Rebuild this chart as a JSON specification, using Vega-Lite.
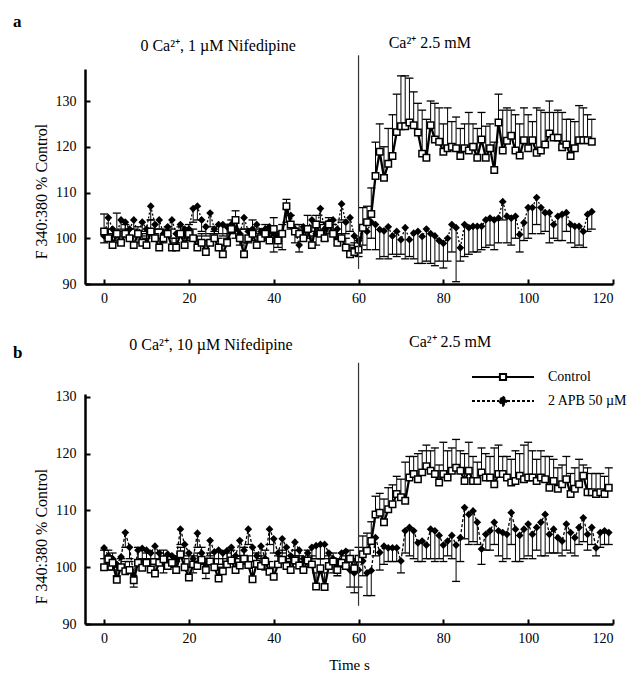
{
"$schema": "https://vega.github.io/schema/vega-lite/v6.json",
"background": "white",
"padding": {"left": 12, "top": 12, "right": 5, "bottom": 5},
"config": {
  "font": "Liberation Serif",
  "view": {"stroke": null},
  "axis": {"grid": false, "domainColor": "black", "domainWidth": 2.5, "tickColor": "black", "tickWidth": 2, "tickSize": -5, "labelPadding": 14, "labelFont": "Liberation Serif", "labelFontSize": 14, "labelColor": "black", "titleFont": "Liberation Serif", "titleFontSize": 15, "titleFontWeight": "normal", "titleColor": "black"},
  "axisX": {"labelPadding": 12},
  "axisY": {"titleFontSize": 16}
},
"datasets": {
"aC": [
{"t":0,"v":101.5,"hi":105.3},{"t":1,"v":100,"hi":102},{"t":2,"v":98.5,"hi":100.5},{"t":3,"v":101,"hi":105.5},{"t":4,"v":99,"hi":101.5},{"t":5,"v":101,"hi":103},{"t":6,"v":100,"hi":102},{"t":7,"v":98.5,"hi":100.5},{"t":8,"v":101,"hi":102.5},{"t":9,"v":99,"hi":101},
{"t":10,"v":98.5,"hi":100.5},{"t":11,"v":101.5,"hi":104},{"t":12,"v":100,"hi":102},{"t":13,"v":98,"hi":100},{"t":14,"v":100,"hi":102},{"t":15,"v":101,"hi":102.5},{"t":16,"v":98,"hi":100},{"t":17,"v":98,"hi":100},{"t":18,"v":101,"hi":102.5},{"t":19,"v":98.5,"hi":101},
{"t":20,"v":101,"hi":103},{"t":21,"v":100,"hi":102},{"t":22,"v":98,"hi":100.5},{"t":23,"v":99,"hi":101},{"t":24,"v":97,"hi":99.5},{"t":25,"v":99,"hi":101},{"t":26,"v":100,"hi":101.5},{"t":27,"v":98,"hi":100},{"t":28,"v":96.5,"hi":98.5},{"t":29,"v":99,"hi":101},
{"t":30,"v":102,"hi":104},{"t":31,"v":104,"hi":106},{"t":32,"v":100,"hi":102},{"t":33,"v":96.5,"hi":99},{"t":34,"v":100,"hi":102},{"t":35,"v":101,"hi":104},{"t":36,"v":98.5,"hi":100.5},{"t":37,"v":100,"hi":102},{"t":38,"v":101,"hi":103},{"t":39,"v":99.5,"hi":101},
{"t":40,"v":102,"hi":104.5},{"t":41,"v":99.5,"hi":101.5},{"t":42,"v":101,"hi":103},{"t":43,"v":107,"hi":108.5},{"t":44,"v":103,"hi":105},{"t":45,"v":101.5,"hi":103},{"t":46,"v":101,"hi":103},{"t":47,"v":100,"hi":102},{"t":48,"v":102,"hi":105},{"t":49,"v":98.5,"hi":100.5},
{"t":50,"v":103,"hi":105},{"t":51,"v":101,"hi":103},{"t":52,"v":100,"hi":103.5},{"t":53,"v":103,"hi":104.5},{"t":54,"v":101,"hi":103},{"t":55,"v":99,"hi":101},{"t":56,"v":100,"hi":103.5},{"t":57,"v":98,"hi":100},{"t":58,"v":96.5,"hi":98.5},{"t":59,"v":97,"hi":99},
{"t":60,"v":97.5,"hi":100},{"t":61,"v":102.3,"hi":106.7},{"t":62,"v":103.5,"hi":107},{"t":63,"v":105.3,"hi":111},{"t":64,"v":113.6,"hi":121},{"t":65,"v":118.9,"hi":125},{"t":66,"v":113.2,"hi":120},{"t":67,"v":116.3,"hi":124},{"t":68,"v":118,"hi":127},{"t":69,"v":123.2,"hi":131.5},
{"t":70,"v":124.5,"hi":135.5},{"t":71,"v":124.5,"hi":135.5},{"t":72,"v":125.3,"hi":135},{"t":73,"v":124.7,"hi":132},{"t":74,"v":123.1,"hi":129.5},{"t":75,"v":118.5,"hi":128},{"t":76,"v":117.6,"hi":126},{"t":77,"v":124.7,"hi":130},{"t":78,"v":121.6,"hi":129.5},{"t":79,"v":121.1,"hi":128.5},
{"t":80,"v":118.9,"hi":125},{"t":81,"v":119.7,"hi":128.5},{"t":82,"v":120,"hi":125.5},{"t":83,"v":119.7,"hi":126.5},{"t":84,"v":118,"hi":124},{"t":85,"v":119.7,"hi":125},{"t":86,"v":119.2,"hi":127.5},{"t":87,"v":120,"hi":125},{"t":88,"v":117.6,"hi":124},{"t":89,"v":121.6,"hi":127.5},
{"t":90,"v":117.6,"hi":124.5},{"t":91,"v":119.7,"hi":125},{"t":92,"v":114.9,"hi":121},{"t":93,"v":125.3,"hi":131.5},{"t":94,"v":119.2,"hi":128},{"t":95,"v":121.3,"hi":128.5},{"t":96,"v":122.4,"hi":128},{"t":97,"v":119.2,"hi":127},{"t":98,"v":118.1,"hi":125},{"t":99,"v":121.4,"hi":128.5},
{"t":100,"v":119.7,"hi":127},{"t":101,"v":121.4,"hi":125.5},{"t":102,"v":118.7,"hi":128.5},{"t":103,"v":119.2,"hi":128},{"t":104,"v":120.5,"hi":127.5},{"t":105,"v":122.9,"hi":130},{"t":106,"v":122,"hi":127.5},{"t":107,"v":122,"hi":128},{"t":108,"v":119.9,"hi":127.5},{"t":109,"v":120.5,"hi":126},
{"t":110,"v":118,"hi":126},{"t":111,"v":119.7,"hi":125.5},{"t":112,"v":121.4,"hi":129},{"t":113,"v":121.4,"hi":128.5},{"t":114,"v":121.4,"hi":127},{"t":115,"v":121.1,"hi":126}
],
"aA": [
{"t":0,"v":100.5,"lo":99},{"t":1,"v":104.5,"lo":101},{"t":2,"v":102,"lo":99.5},{"t":3,"v":101,"lo":99},{"t":4,"v":104,"lo":102},{"t":5,"v":103.5,"lo":101.5},{"t":6,"v":102,"lo":100},{"t":7,"v":104,"lo":102},{"t":8,"v":101,"lo":99},{"t":9,"v":103.5,"lo":101.5},
{"t":10,"v":102,"lo":100},{"t":11,"v":107,"lo":104},{"t":12,"v":103,"lo":101},{"t":13,"v":104,"lo":102},{"t":14,"v":101,"lo":99},{"t":15,"v":102.5,"lo":100.5},{"t":16,"v":104,"lo":102},{"t":17,"v":101,"lo":99},{"t":18,"v":103,"lo":101},{"t":19,"v":102,"lo":100},
{"t":20,"v":102,"lo":99.5},{"t":21,"v":106.5,"lo":103.5},{"t":22,"v":107,"lo":104},{"t":23,"v":104,"lo":101.5},{"t":24,"v":102.5,"lo":100.5},{"t":25,"v":105.5,"lo":102.5},{"t":26,"v":102,"lo":99.5},{"t":27,"v":103,"lo":101},{"t":28,"v":103,"lo":100.5},{"t":29,"v":102.5,"lo":100},
{"t":30,"v":103,"lo":101},{"t":31,"v":102,"lo":100},{"t":32,"v":101,"lo":98.5},{"t":33,"v":104.5,"lo":102},{"t":34,"v":101.5,"lo":99},{"t":35,"v":102,"lo":99.5},{"t":36,"v":103,"lo":101},{"t":37,"v":101.5,"lo":99.5},{"t":38,"v":102,"lo":99.5},{"t":39,"v":102.5,"lo":100},
{"t":40,"v":101,"lo":97},{"t":41,"v":100.5,"lo":98},{"t":42,"v":101,"lo":97.5},{"t":43,"v":106.5,"lo":103.5},{"t":44,"v":105,"lo":102},{"t":45,"v":102,"lo":99},{"t":46,"v":98.5,"lo":97},{"t":47,"v":102.5,"lo":100.5},{"t":48,"v":102,"lo":100},{"t":49,"v":104,"lo":101.5},
{"t":50,"v":101,"lo":98.5},{"t":51,"v":106.5,"lo":103.5},{"t":52,"v":102,"lo":99.5},{"t":53,"v":103.5,"lo":101},{"t":54,"v":104,"lo":101.5},{"t":55,"v":102,"lo":100},{"t":56,"v":107.5,"lo":104},{"t":57,"v":103.5,"lo":101},{"t":58,"v":104.5,"lo":101.5},{"t":59,"v":100.5,"lo":98},
{"t":60,"v":99.5,"lo":96},{"t":61,"v":102.3,"lo":98.5},{"t":62,"v":101.5,"lo":97.5},{"t":63,"v":103.5,"lo":100},{"t":64,"v":103,"lo":97.5},{"t":65,"v":101.9,"lo":95.5},{"t":66,"v":101.6,"lo":96},{"t":67,"v":102.5,"lo":95.5},{"t":68,"v":100.5,"lo":96.5},{"t":69,"v":101.5,"lo":96},
{"t":70,"v":99.7,"lo":96.5},{"t":71,"v":102.3,"lo":95.5},{"t":72,"v":99.7,"lo":96},{"t":73,"v":101.1,"lo":95.5},{"t":74,"v":101.5,"lo":94.5},{"t":75,"v":100.4,"lo":94.5},{"t":76,"v":102,"lo":95},{"t":77,"v":101,"lo":94.5},{"t":78,"v":100.5,"lo":94},{"t":79,"v":99.5,"lo":95},
{"t":80,"v":98.9,"lo":93.5},{"t":81,"v":100,"lo":95},{"t":82,"v":103,"lo":97},{"t":83,"v":102.3,"lo":90.5},{"t":84,"v":97.9,"lo":95},{"t":85,"v":103,"lo":96},{"t":86,"v":102.3,"lo":96.5},{"t":87,"v":102.6,"lo":97},{"t":88,"v":102.6,"lo":97},{"t":89,"v":102.6,"lo":97.5},
{"t":90,"v":104,"lo":98},{"t":91,"v":104.4,"lo":98.5},{"t":92,"v":104,"lo":97.5},{"t":93,"v":104.4,"lo":99},{"t":94,"v":108,"lo":104},{"t":95,"v":104.8,"lo":99},{"t":96,"v":104.4,"lo":98.5},{"t":97,"v":104.8,"lo":100},{"t":98,"v":100.8,"lo":97},{"t":99,"v":103.4,"lo":99.5},
{"t":100,"v":106.7,"lo":100},{"t":101,"v":106.7,"lo":101},{"t":102,"v":108.9,"lo":103},{"t":103,"v":106.7,"lo":101},{"t":104,"v":105.6,"lo":101.5},{"t":105,"v":105.6,"lo":99},{"t":106,"v":103,"lo":100},{"t":107,"v":104.8,"lo":99.5},{"t":108,"v":105.2,"lo":99.5},{"t":109,"v":105.6,"lo":101.5},
{"t":110,"v":103,"lo":99},{"t":111,"v":102.6,"lo":98},{"t":112,"v":102.6,"lo":98.5},{"t":113,"v":101.5,"lo":98},{"t":114,"v":105.2,"lo":101.5},{"t":115,"v":105.8,"lo":102}
],
"bC": [
{"t":0,"v":100,"hi":103},{"t":1,"v":101.4,"hi":103},{"t":2,"v":100.8,"hi":102.5},{"t":3,"v":97.8,"hi":100},{"t":4,"v":100,"hi":101.5},{"t":5,"v":99.3,"hi":101},{"t":6,"v":99.5,"hi":101},{"t":7,"v":97.7,"hi":99.5},{"t":8,"v":100.8,"hi":103.5},{"t":9,"v":99.9,"hi":101.5},
{"t":10,"v":100.8,"hi":102.5},{"t":11,"v":99.6,"hi":101.5},{"t":12,"v":98.9,"hi":100.5},{"t":13,"v":100.8,"hi":102.5},{"t":14,"v":101.4,"hi":103},{"t":15,"v":100.2,"hi":102},{"t":16,"v":100.8,"hi":102},{"t":17,"v":99.5,"hi":101},{"t":18,"v":102.3,"hi":103.5},{"t":19,"v":100,"hi":101.5},
{"t":20,"v":98.2,"hi":100},{"t":21,"v":100.5,"hi":102},{"t":22,"v":100.2,"hi":102.5},{"t":23,"v":101.3,"hi":103.5},{"t":24,"v":99.5,"hi":101.5},{"t":25,"v":101,"hi":102.5},{"t":26,"v":100,"hi":101.5},{"t":27,"v":98,"hi":100},{"t":28,"v":99.3,"hi":101.5},{"t":29,"v":100.5,"hi":102.5},
{"t":30,"v":101.2,"hi":103},{"t":31,"v":99.5,"hi":101.5},{"t":32,"v":100.3,"hi":102},{"t":33,"v":101.5,"hi":103.5},{"t":34,"v":100.4,"hi":102},{"t":35,"v":97.9,"hi":100},{"t":36,"v":100.6,"hi":102.5},{"t":37,"v":100.2,"hi":102},{"t":38,"v":101,"hi":103},{"t":39,"v":99.2,"hi":101},
{"t":40,"v":98.3,"hi":100},{"t":41,"v":100.5,"hi":102},{"t":42,"v":101.3,"hi":103},{"t":43,"v":100.2,"hi":101.5},{"t":44,"v":99.5,"hi":101},{"t":45,"v":101.2,"hi":103},{"t":46,"v":100.3,"hi":102},{"t":47,"v":99.5,"hi":101},{"t":48,"v":101.2,"hi":103},{"t":49,"v":100.5,"hi":102},
{"t":50,"v":96.6,"hi":99},{"t":51,"v":99.8,"hi":101.5},{"t":52,"v":96.5,"hi":99},{"t":53,"v":100.2,"hi":102},{"t":54,"v":101,"hi":102.5},{"t":55,"v":99.5,"hi":101.5},{"t":56,"v":100.8,"hi":102.5},{"t":57,"v":100.2,"hi":102},{"t":58,"v":101.5,"hi":103},{"t":59,"v":99.8,"hi":101.5},
{"t":60,"v":101.5,"hi":103.5},{"t":61,"v":102.3,"hi":105.5},{"t":62,"v":102.9,"hi":106},{"t":63,"v":104.6,"hi":108},{"t":64,"v":109.3,"hi":112.5},{"t":65,"v":109.6,"hi":113},{"t":66,"v":107.9,"hi":112},{"t":67,"v":110.2,"hi":114},{"t":68,"v":111.1,"hi":114.5},{"t":69,"v":112.9,"hi":116},
{"t":70,"v":112.3,"hi":115.5},{"t":71,"v":111.7,"hi":118.5},{"t":72,"v":115.8,"hi":119.5},{"t":73,"v":116.4,"hi":119.5},{"t":74,"v":115.5,"hi":120},{"t":75,"v":116.7,"hi":120.5},{"t":76,"v":117.8,"hi":121.5},{"t":77,"v":117,"hi":120.5},{"t":78,"v":116.4,"hi":121},{"t":79,"v":114.9,"hi":118},
{"t":80,"v":116.4,"hi":122},{"t":81,"v":115.8,"hi":120.5},{"t":82,"v":117,"hi":121},{"t":83,"v":117.5,"hi":122.5},{"t":84,"v":117,"hi":120.5},{"t":85,"v":115.2,"hi":120},{"t":86,"v":117,"hi":122},{"t":87,"v":115.2,"hi":119.5},{"t":88,"v":115.2,"hi":118.5},{"t":89,"v":116.7,"hi":121},
{"t":90,"v":115.8,"hi":120},{"t":91,"v":115.8,"hi":119.5},{"t":92,"v":114.6,"hi":121},{"t":93,"v":116.4,"hi":121.5},{"t":94,"v":116.4,"hi":119.5},{"t":95,"v":115.8,"hi":119.5},{"t":96,"v":114.9,"hi":119},{"t":97,"v":115.2,"hi":120.5},{"t":98,"v":116.1,"hi":120},{"t":99,"v":115.5,"hi":121.5},
{"t":100,"v":115.8,"hi":122},{"t":101,"v":115.8,"hi":120.5},{"t":102,"v":115.2,"hi":119},{"t":103,"v":115.8,"hi":120.5},{"t":104,"v":115.5,"hi":119.5},{"t":105,"v":114,"hi":119.5},{"t":106,"v":115.2,"hi":119},{"t":107,"v":113.8,"hi":117.5},{"t":108,"v":114.6,"hi":118},{"t":109,"v":115.5,"hi":119.5},
{"t":110,"v":112.9,"hi":116.5},{"t":111,"v":113.8,"hi":117.5},{"t":112,"v":114.6,"hi":119},{"t":113,"v":116.1,"hi":118},{"t":114,"v":113.2,"hi":117.5},{"t":115,"v":113.2,"hi":116.5},{"t":116,"v":112.9,"hi":116.5},{"t":117,"v":113.2,"hi":116.5},{"t":118,"v":112.9,"hi":116},{"t":119,"v":114,"hi":117.5}
],
"bA": [
{"t":0,"v":103.4,"lo":101.5},{"t":1,"v":102,"lo":99.5},{"t":2,"v":101.5,"lo":99.5},{"t":3,"v":100.5,"lo":98.5},{"t":4,"v":101.8,"lo":99.5},{"t":5,"v":106.1,"lo":103.5},{"t":6,"v":103.5,"lo":101.5},{"t":7,"v":98.5,"lo":96.5},{"t":8,"v":103,"lo":101},{"t":9,"v":103.3,"lo":101},
{"t":10,"v":103,"lo":101},{"t":11,"v":102.5,"lo":100.5},{"t":12,"v":103.7,"lo":101.5},{"t":13,"v":102.5,"lo":100.5},{"t":14,"v":101.2,"lo":99},{"t":15,"v":102.3,"lo":100},{"t":16,"v":102,"lo":100},{"t":17,"v":101.5,"lo":99},{"t":18,"v":106.7,"lo":104},{"t":19,"v":104,"lo":102},
{"t":20,"v":102.5,"lo":100},{"t":21,"v":101.5,"lo":99},{"t":22,"v":106,"lo":103.5},{"t":23,"v":102.5,"lo":100.5},{"t":24,"v":100.5,"lo":98},{"t":25,"v":104.7,"lo":102},{"t":26,"v":102.7,"lo":100.5},{"t":27,"v":103,"lo":100.5},{"t":28,"v":102.5,"lo":100.5},{"t":29,"v":102.9,"lo":100.5},
{"t":30,"v":103.5,"lo":101},{"t":31,"v":102,"lo":100},{"t":32,"v":104.7,"lo":102},{"t":33,"v":103,"lo":100.5},{"t":34,"v":106.7,"lo":104},{"t":35,"v":103.5,"lo":101},{"t":36,"v":102,"lo":100},{"t":37,"v":103.7,"lo":101.5},{"t":38,"v":101.5,"lo":99.5},{"t":39,"v":106.7,"lo":104},
{"t":40,"v":105,"lo":102.5},{"t":41,"v":102.5,"lo":100.5},{"t":42,"v":105,"lo":102.5},{"t":43,"v":103.5,"lo":101},{"t":44,"v":102,"lo":100},{"t":45,"v":104.4,"lo":102},{"t":46,"v":103,"lo":101},{"t":47,"v":101.5,"lo":99.5},{"t":48,"v":102.5,"lo":100},{"t":49,"v":103.5,"lo":101.5},
{"t":50,"v":103.8,"lo":101.5},{"t":51,"v":104,"lo":101.5},{"t":52,"v":104,"lo":101.5},{"t":53,"v":102.5,"lo":100},{"t":54,"v":101.5,"lo":99},{"t":55,"v":100.6,"lo":98.5},{"t":56,"v":102.5,"lo":100},{"t":57,"v":102.8,"lo":100},{"t":58,"v":99.5,"lo":96.5},{"t":59,"v":99,"lo":95.5},
{"t":60,"v":99.5,"lo":96.5},{"t":61,"v":101.1,"lo":98.5},{"t":62,"v":99,"lo":95},{"t":63,"v":99.4,"lo":95},{"t":64,"v":105.2,"lo":102},{"t":65,"v":102.6,"lo":99.5},{"t":66,"v":103.7,"lo":100.5},{"t":67,"v":103.4,"lo":101},{"t":68,"v":103.4,"lo":101},{"t":69,"v":103.4,"lo":101},
{"t":70,"v":101.1,"lo":99},{"t":71,"v":106.4,"lo":102.5},{"t":72,"v":107,"lo":102},{"t":73,"v":106.4,"lo":101.5},{"t":74,"v":104.3,"lo":101},{"t":75,"v":104.6,"lo":101},{"t":76,"v":103.9,"lo":101.5},{"t":77,"v":106.7,"lo":101.5},{"t":78,"v":106.4,"lo":101},{"t":79,"v":105.6,"lo":101.5},
{"t":80,"v":103.9,"lo":101},{"t":81,"v":104.6,"lo":102},{"t":82,"v":105.6,"lo":101.5},{"t":83,"v":103.9,"lo":97.5},{"t":84,"v":105.2,"lo":101},{"t":85,"v":110.5,"lo":105},{"t":86,"v":109.3,"lo":104},{"t":87,"v":109.9,"lo":104.5},{"t":88,"v":107.9,"lo":104},{"t":89,"v":103.2,"lo":100.5},
{"t":90,"v":105.8,"lo":103},{"t":91,"v":106.4,"lo":103},{"t":92,"v":107.9,"lo":104},{"t":93,"v":106.4,"lo":102},{"t":94,"v":106.1,"lo":101},{"t":95,"v":105.8,"lo":101.5},{"t":96,"v":109.6,"lo":104},{"t":97,"v":106.7,"lo":101},{"t":98,"v":105.6,"lo":101},{"t":99,"v":106.7,"lo":101.5},
{"t":100,"v":107.6,"lo":102},{"t":101,"v":105.8,"lo":101.5},{"t":102,"v":107,"lo":103},{"t":103,"v":107.9,"lo":102},{"t":104,"v":109.3,"lo":102},{"t":105,"v":105.8,"lo":102.5},{"t":106,"v":106.7,"lo":102.5},{"t":107,"v":105.2,"lo":102.5},{"t":108,"v":104.6,"lo":102},{"t":109,"v":107.6,"lo":103},
{"t":110,"v":106.1,"lo":102.5},{"t":111,"v":105.2,"lo":102},{"t":112,"v":107,"lo":104},{"t":113,"v":108.7,"lo":104.5},{"t":114,"v":105.8,"lo":103},{"t":115,"v":107,"lo":104},{"t":116,"v":103.4,"lo":102},{"t":117,"v":106.1,"lo":103.5},{"t":118,"v":106.4,"lo":104},{"t":119,"v":106.1,"lo":104}
]
},
"bounds": "flush",
"spacing": 110,
"vconcat": [
{
  "width": 528, "height": 215,
  "layer": [
    {
      "encoding": {
        "x": {"field": "t", "type": "quantitative", "scale": {"domain": [-4.5, 120], "nice": false, "zero": false}, "axis": {"title": null, "values": [0, 20, 40, 60, 80, 100, 120]}},
        "y": {"field": "v", "type": "quantitative", "title": "F 340:380 % Control", "scale": {"domain": [90, 137], "nice": false, "zero": false}, "axis": {"values": [90, 100, 110, 120, 130], "titleX": -44, "titleY": 122, "titleAlign": "center", "titleBaseline": "middle"}}
      },
      "layer": [
        {"data": {"name": "aA"}, "mark": {"type": "rule", "color": "black", "strokeWidth": 1}, "encoding": {"y2": {"field": "lo"}}},
        {"data": {"name": "aA"}, "mark": {"type": "tick", "orient": "horizontal", "size": 8, "thickness": 1.3, "color": "black", "opacity": 1}, "encoding": {"y": {"field": "lo", "type": "quantitative", "title": "F 340:380 % Control"}}},
        {"data": {"name": "aC"}, "mark": {"type": "rule", "color": "black", "strokeWidth": 1}, "encoding": {"y2": {"field": "hi"}}},
        {"data": {"name": "aC"}, "mark": {"type": "tick", "orient": "horizontal", "size": 8, "thickness": 1.3, "color": "black", "opacity": 1}, "encoding": {"y": {"field": "hi", "type": "quantitative", "title": "F 340:380 % Control"}}},
        {"data": {"name": "aA"}, "mark": {"type": "line", "color": "black", "strokeWidth": 1.3, "strokeDash": [2, 2]}, "encoding": {}},
        {"data": {"name": "aC"}, "mark": {"type": "line", "color": "black", "strokeWidth": 2.3}, "encoding": {}},
        {"data": {"name": "aA"}, "mark": {"type": "point", "shape": "diamond", "size": 60, "filled": true, "fill": "black", "opacity": 1}, "encoding": {}},
        {"data": {"name": "aC"}, "mark": {"type": "point", "shape": "square", "size": 42, "filled": true, "fill": "white", "stroke": "black", "strokeWidth": 1.5, "opacity": 1}, "encoding": {}}
      ]
    },
    {"data": {"values": [{}]}, "mark": {"type": "rule", "color": "#333", "strokeWidth": 1.2}, "encoding": {"x": {"datum": 60}, "y": {"datum": 93.3}, "y2": {"datum": 140}}},
    {"data": {"values": [{}]}, "mark": {"type": "text", "font": "Liberation Serif", "fontSize": 17, "fontWeight": "bold", "color": "black", "align": "left", "baseline": "alphabetic"}, "encoding": {"x": {"datum": -21.5}, "y": {"datum": 146.2}, "text": {"value": "a"}}},
    {"data": {"values": [{}]}, "mark": {"type": "text", "font": "Liberation Serif", "fontSize": 16, "color": "black", "align": "center", "baseline": "alphabetic"}, "encoding": {"x": {"datum": 26.9}, "y": {"datum": 140.9}, "text": {"value": "0 Ca²⁺, 1 µM Nifedipine"}}},
    {"data": {"values": [{}]}, "mark": {"type": "text", "font": "Liberation Serif", "fontSize": 16, "color": "black", "align": "center", "baseline": "alphabetic"}, "encoding": {"x": {"datum": 76.8}, "y": {"datum": 141.6}, "text": {"value": "Ca²⁺ 2.5 mM"}}}
  ]
},
{
  "width": 528, "height": 230,
  "layer": [
    {
      "encoding": {
        "x": {"field": "t", "type": "quantitative", "scale": {"domain": [-4.5, 120], "nice": false, "zero": false}, "axis": {"title": "Time s", "titlePadding": 12, "values": [0, 20, 40, 60, 80, 100, 120]}},
        "y": {"field": "v", "type": "quantitative", "title": "F 340:380 % Control", "scale": {"domain": [90, 130.5], "nice": false, "zero": false}, "axis": {"values": [90, 100, 110, 120, 130], "titleX": -44, "titleY": 142, "titleAlign": "center", "titleBaseline": "middle"}}
      },
      "layer": [
        {"data": {"name": "bA"}, "mark": {"type": "rule", "color": "black", "strokeWidth": 1}, "encoding": {"y2": {"field": "lo"}}},
        {"data": {"name": "bA"}, "mark": {"type": "tick", "orient": "horizontal", "size": 8, "thickness": 1.3, "color": "black", "opacity": 1}, "encoding": {"y": {"field": "lo", "type": "quantitative", "title": "F 340:380 % Control"}}},
        {"data": {"name": "bC"}, "mark": {"type": "rule", "color": "black", "strokeWidth": 1}, "encoding": {"y2": {"field": "hi"}}},
        {"data": {"name": "bC"}, "mark": {"type": "tick", "orient": "horizontal", "size": 8, "thickness": 1.3, "color": "black", "opacity": 1}, "encoding": {"y": {"field": "hi", "type": "quantitative", "title": "F 340:380 % Control"}}},
        {"data": {"name": "bA"}, "mark": {"type": "line", "color": "black", "strokeWidth": 1.3}, "encoding": {
          "strokeDash": {"datum": "2 APB 50 µM", "type": "nominal", "scale": {"domain": ["Control", "2 APB 50 µM"], "range": [[1, 0], [3, 2]]},
            "legend": {"orient": "none", "legendX": 386, "legendY": 298, "title": null, "direction": "vertical", "symbolSize": 3844, "clipHeight": 20, "rowPadding": 4, "labelOffset": 13, "symbolStrokeWidth": 2, "symbolStrokeColor": "black", "labelFont": "Liberation Serif", "labelFontSize": 14, "labelColor": "black", "labelBaseline": "middle", "labelLimit": 200,
              "encode": {"symbols": {"update": {
                "shape": {"signal": "datum.value === 'Control' ? 'M-1,0H-0.1M0.1,0H1M-0.1,-0.1H0.1V0.1H-0.1Z' : 'M-1,0H-0.13M0.13,0H1M0,-0.15L0.13,0L0,0.15L-0.13,0Z'"},
                "fill": {"signal": "datum.value === 'Control' ? 'white' : 'black'"},
                "fillOpacity": {"value": 1}, "strokeOpacity": {"value": 1}, "stroke": {"value": "black"}}}}}}}},
        {"data": {"name": "bC"}, "mark": {"type": "line", "color": "black", "strokeWidth": 2.3}, "encoding": {"strokeDash": {"datum": "Control", "type": "nominal"}}},
        {"data": {"name": "bA"}, "mark": {"type": "point", "shape": "diamond", "size": 60, "filled": true, "fill": "black", "opacity": 1}, "encoding": {}},
        {"data": {"name": "bC"}, "mark": {"type": "point", "shape": "square", "size": 42, "filled": true, "fill": "white", "stroke": "black", "strokeWidth": 1.5, "opacity": 1}, "encoding": {}}
      ]
    },
    {"data": {"values": [{}]}, "mark": {"type": "rule", "color": "#333", "strokeWidth": 1.2}, "encoding": {"x": {"datum": 60}, "y": {"datum": 93.2}, "y2": {"datum": 136}}},
    {"data": {"values": [{}]}, "mark": {"type": "text", "font": "Liberation Serif", "fontSize": 17, "fontWeight": "bold", "color": "black", "align": "left", "baseline": "alphabetic"}, "encoding": {"x": {"datum": -21.5}, "y": {"datum": 136.8}, "text": {"value": "b"}}},
    {"data": {"values": [{}]}, "mark": {"type": "text", "font": "Liberation Serif", "fontSize": 16, "color": "black", "align": "center", "baseline": "alphabetic"}, "encoding": {"x": {"datum": 25.2}, "y": {"datum": 138.3}, "text": {"value": "0 Ca²⁺, 10 µM Nifedipine"}}},
    {"data": {"values": [{}]}, "mark": {"type": "text", "font": "Liberation Serif", "fontSize": 16, "color": "black", "align": "center", "baseline": "alphabetic"}, "encoding": {"x": {"datum": 81.6}, "y": {"datum": 138.8}, "text": {"value": "Ca²⁺ 2.5 mM"}}}
  ]
}
]
}
